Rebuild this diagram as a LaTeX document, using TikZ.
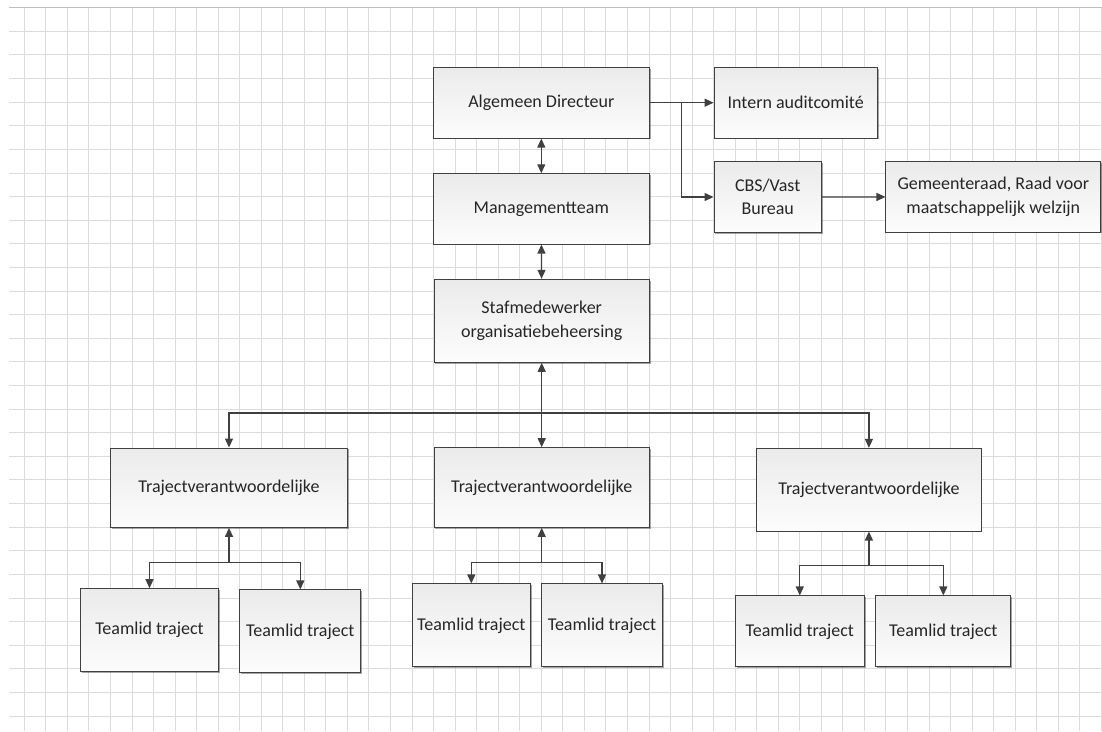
\documentclass[tikz,border=0pt]{standalone}
\usepackage{fontspec}
\setmainfont{Carlito}
\usetikzlibrary{arrows.meta,shadows}
\definecolor{linec}{HTML}{404040}
\definecolor{gridc}{HTML}{DCDCDC}
\begin{document}
\begin{tikzpicture}[x=1pt,y=-1pt,
  box/.style={draw=linec, line width=1pt, top color=black!8, bottom color=black!1,
    inner sep=0pt, align=center, font=\fontsize{18}{23.5}\selectfont, text=black!85,
    drop shadow={shadow xshift=1.2pt, shadow yshift=-1.2pt, opacity=0.35, fill=black}},
  conn/.style={draw=linec, line width=1.2pt, -{Triangle[length=9pt,width=8pt]}},
  biconn/.style={draw=linec, line width=1.2pt, {Triangle[length=9pt,width=8pt]}-{Triangle[length=9pt,width=8pt]}},
  plain/.style={draw=linec, line width=1.2pt},
  gridline/.style={draw=gridc, line width=0.9pt}]
\useasboundingbox (0,0) rectangle (1102,731);
\fill[white] (0,0) rectangle (1102,731);
% grid
\foreach \i in {0,...,50} {
  \pgfmathsetmacro{\gx}{24.3+\i*21.54}
  \ifdim \gx pt < 1102pt \draw[gridline] (\gx,7.7) -- (\gx,731); \fi
}
\foreach \j in {0,...,30} {
  \pgfmathsetmacro{\gy}{7.7+\j*23.61}
  \draw[gridline] (9,\gy) -- (1102,\gy);
}
\draw[draw=black!25, line width=1pt] (9,7.7) -- (1102,7.7);
% boxes
\node[box, minimum width=216pt, minimum height=70.7pt] (ad) at (541.3,102.7) {Algemeen Directeur};
\node[box, minimum width=216pt, minimum height=70.3pt] (mt) at (541.3,208.9) {Managementteam};
\node[box, minimum width=215.3pt, minimum height=83pt] (staf) at (541.7,320.8) {Stafmedewerker\\organisatiebeheersing};
\node[box, minimum width=163.3pt, minimum height=70.7pt] (iac) at (795.7,102.7) {Intern auditcomité};
\node[box, minimum width=107.3pt, minimum height=70.6pt] (cbs) at (767.7,197) {CBS/Vast\\Bureau};
\node[box, minimum width=214.7pt, minimum height=70.4pt] (gem) at (993.3,196.9) {Gemeenteraad, Raad voor\\maatschappelijk welzijn};
\node[box, minimum width=237pt, minimum height=79.3pt] (tl) at (229,487.7) {Trajectverantwoordelijke};
\node[box, minimum width=215.3pt, minimum height=79.6pt] (tm) at (541.7,487.5) {Trajectverantwoordelijke};
\node[box, minimum width=224.3pt, minimum height=82.7pt] (tr) at (868.9,489.7) {Trajectverantwoordelijke};
\node[box, minimum width=137.6pt, minimum height=83pt] (l1) at (149.5,630.2) {Teamlid traject};
\node[box, minimum width=120.7pt, minimum height=82.7pt] (l2) at (300.3,631.3) {Teamlid traject};
\node[box, minimum width=118pt, minimum height=82.7pt] (m1) at (471.3,625.3) {Teamlid traject};
\node[box, minimum width=120.6pt, minimum height=82.7pt] (m2) at (602,625.3) {Teamlid traject};
\node[box, minimum width=129pt, minimum height=70.7pt] (r1) at (799.8,631.3) {Teamlid traject};
\node[box, minimum width=135.3pt, minimum height=70.7pt] (r2) at (943.3,631.3) {Teamlid traject};
% coordinates
\coordinate (adb) at (681.7,102.7);
\coordinate (sb) at (541.7,413);
\coordinate (lb) at (229,562.7);
\coordinate (mb) at (541.7,562.7);
\coordinate (rb) at (868.9,565.7);
% connectors
\draw[biconn] (ad) -- (mt);
\draw[biconn] (mt) -- (staf);
\draw[conn] (ad.east) -- (iac.west);
\draw[conn] (adb) |- (cbs.west);
\draw[conn] (cbs) -- (gem);
\draw[biconn] (staf) -- (tm);
\draw[conn] (sb) -| (tl.north);
\draw[conn] (sb) -| (tr.north);
\draw[conn] (lb) -- (tl.south);
\draw[conn] (lb) -| (l1.north);
\draw[conn] (lb) -| (l2.north);
\draw[conn] (mb) -- (tm.south);
\draw[conn] (mb) -| (m1.north);
\draw[conn] (mb) -| (m2.north);
\draw[conn] (rb) -- (tr.south);
\draw[conn] (rb) -| (r1.north);
\draw[conn] (rb) -| (r2.north);
\end{tikzpicture}
\end{document}
